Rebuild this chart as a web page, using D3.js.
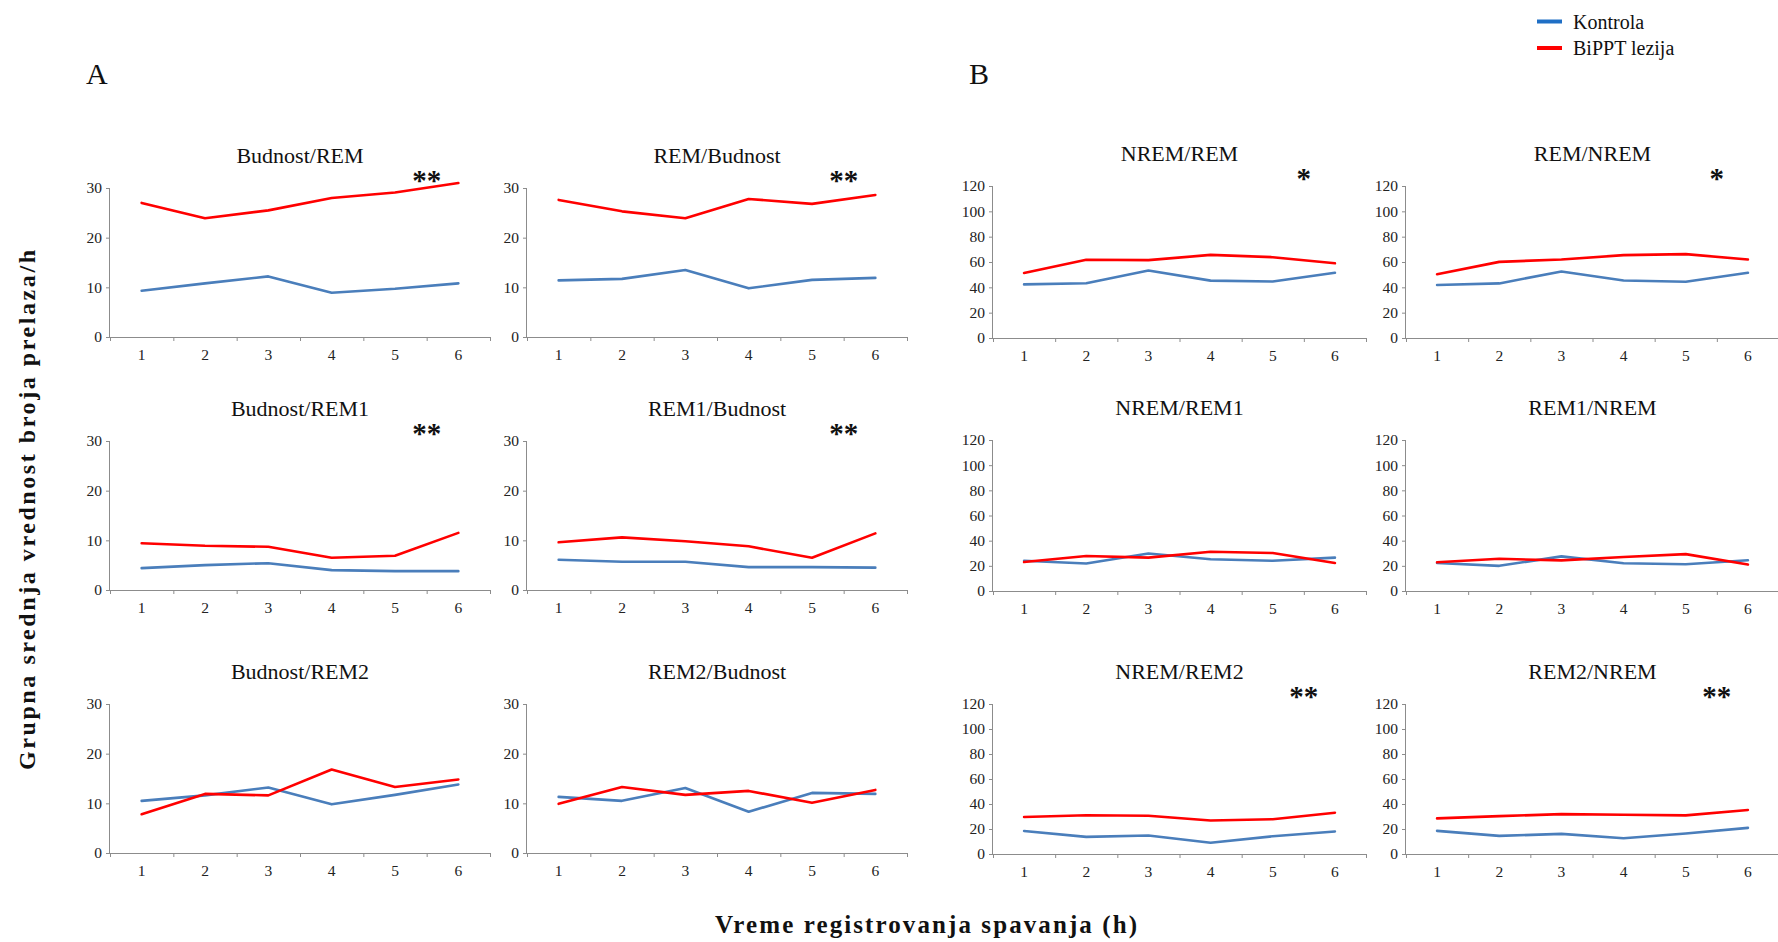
<!DOCTYPE html>
<html>
<head>
<meta charset="utf-8">
<script src="https://cdn.jsdelivr.net/npm/d3@7"></script>
<style>
  html, body { margin: 0; padding: 0; background: #ffffff; }
  svg { display: block; font-family: "Liberation Serif", "Times New Roman", serif; }
</style>
</head>
<body>
<svg id="chart" width="1778" height="942"></svg>
<script>
// ---------- data ----------
const hours = [1, 2, 3, 4, 5, 6];
const seriesNames = ["Kontrola", "BiPPT lezija"];
const yTicksA = [0, 10, 20, 30];
const yTicksB = [0, 20, 40, 60, 80, 100, 120];

const titlesA = ["Budnost/REM", "REM/Budnost", "Budnost/REM1", "REM1/Budnost", "Budnost/REM2", "REM2/Budnost"];
const titlesB = ["NREM/REM", "REM/NREM", "NREM/REM1", "REM1/NREM", "NREM/REM2", "REM2/NREM"];
const starsA = ["**", "**", "**", "**", "", ""];
const starsB = ["*", "*", "", "", "**", "**"];

// Panel A (Budnost <-> REM)
const kontrolaBudnostREM   = [9.3, 10.8, 12.2, 8.9, 9.7, 10.8];
const lezijaBudnostREM     = [27.0, 23.9, 25.5, 28.0, 29.1, 31.0];
const kontrolaREMBudnost   = [11.4, 11.7, 13.5, 9.8, 11.5, 11.9];
const lezijaREMBudnost     = [27.6, 25.3, 23.9, 27.8, 26.8, 28.6];
const kontrolaBudnostREM1  = [4.4, 5.0, 5.4, 4.0, 3.8, 3.8];
const lezijaBudnostREM1    = [9.4, 8.9, 8.7, 6.5, 6.9, 11.5];
const kontrolaREM1Budnost  = [6.1, 5.7, 5.7, 4.6, 4.6, 4.5];
const lezijaREM1Budnost    = [9.6, 10.6, 9.8, 8.8, 6.5, 11.4];
const kontrolaBudnostREM2  = [10.5, 11.6, 13.2, 9.8, 11.7, 13.8];
const lezijaBudnostREM2    = [7.8, 11.9, 11.6, 16.8, 13.3, 14.8];
const kontrolaREM2Budnost  = [11.3, 10.5, 13.1, 8.3, 12.1, 11.9];
const lezijaREM2Budnost    = [9.9, 13.3, 11.7, 12.5, 10.1, 12.7];

// Panel B (NREM <-> REM)
const kontrolaNREMREM  = [42.3, 43.2, 53.3, 45.3, 44.6, 51.5];
const lezijaNREMREM    = [51.3, 61.8, 61.5, 65.6, 63.8, 59.0];
const kontrolaREMNREM  = [41.8, 43.1, 52.5, 45.4, 44.4, 51.5];
const lezijaREMNREM    = [50.4, 60.1, 62.0, 65.4, 66.2, 62.0];
const kontrolaNREMREM1 = [24.0, 21.8, 29.8, 25.2, 24.0, 26.5];
const lezijaNREMREM1   = [23.0, 27.8, 26.5, 31.2, 30.2, 22.3];
const kontrolaREM1NREM = [22.3, 20.0, 27.5, 22.0, 21.3, 24.4];
const lezijaREM1NREM   = [22.8, 25.6, 24.3, 27.0, 29.3, 21.0];
const kontrolaNREMREM2 = [18.4, 13.7, 14.8, 9.0, 14.2, 18.0];
const lezijaNREMREM2   = [29.6, 31.0, 30.6, 26.8, 27.8, 33.0];
const kontrolaREM2NREM = [18.5, 14.5, 16.1, 12.6, 16.4, 20.9];
const lezijaREM2NREM   = [28.5, 30.3, 31.9, 31.4, 30.9, 35.2];

const seriesA = [
  [kontrolaBudnostREM, lezijaBudnostREM], [kontrolaREMBudnost, lezijaREMBudnost],
  [kontrolaBudnostREM1, lezijaBudnostREM1], [kontrolaREM1Budnost, lezijaREM1Budnost],
  [kontrolaBudnostREM2, lezijaBudnostREM2], [kontrolaREM2Budnost, lezijaREM2Budnost]
];
const seriesB = [
  [kontrolaNREMREM, lezijaNREMREM], [kontrolaREMNREM, lezijaREMNREM],
  [kontrolaNREMREM1, lezijaNREMREM1], [kontrolaREM1NREM, lezijaREM1NREM],
  [kontrolaNREMREM2, lezijaNREMREM2], [kontrolaREM2NREM, lezijaREM2NREM]
];

// ---------- layout ----------
const lineColors = ["#4a7ebb", "#ff0000"];
const legendColors = ["#1f6fc5", "#ff0000"];
const axisColor = "#8c8c8c";

const layoutA = { cols: [[110, 490], [527, 907]], rows: [[188, 337], [441, 590], [704, 853]], max: 30, ticks: yTicksA };
const layoutB = { cols: [[993, 1366], [1406, 1779]], rows: [[186, 338], [440, 591], [704, 854]], max: 120, ticks: yTicksB };

const svg = d3.select("#chart");

function drawPanel(L, idx, title, stars, data) {
  const col = idx % 2, row = Math.floor(idx / 2);
  const [x0, x1] = L.cols[col];
  const [top, bottom] = L.rows[row];
  const g = svg.append("g");

  const x = d3.scaleBand().domain(hours).range([x0, x1]);
  const xb = d3.scaleLinear().domain([0, hours.length]).range([x0, x1]);
  const y = d3.scaleLinear().domain([0, L.max]).range([bottom, top]);

  // y axis
  const ya = g.append("g").attr("transform", `translate(${x0},0)`)
    .call(d3.axisLeft(y).tickValues(L.ticks).tickSize(4).tickPadding(4).tickFormat(d3.format("d")));
  ya.select(".domain").attr("stroke", axisColor).attr("d", `M-0.5,${top}V${bottom}`);
  ya.selectAll(".tick line").attr("stroke", axisColor);
  ya.selectAll(".tick text").attr("font-family", "Liberation Serif").attr("font-size", 15.5).attr("fill", "#222");

  // x axis: boundary ticks
  const xa = g.append("g").attr("transform", `translate(0,${bottom})`)
    .call(d3.axisBottom(xb).tickValues(d3.range(0, hours.length + 1)).tickSize(4).tickFormat(""));
  xa.select(".domain").attr("stroke", axisColor).attr("d", `M${x0},0.5H${x1}`);
  xa.selectAll(".tick line").attr("stroke", axisColor);

  // x labels at band centres
  const xl = g.append("g").attr("transform", `translate(0,${bottom})`)
    .call(d3.axisBottom(x).tickSize(0).tickPadding(12));
  xl.select(".domain").remove();
  xl.selectAll(".tick text").attr("font-family", "Liberation Serif").attr("font-size", 15.5).attr("fill", "#222");

  // lines
  const line = d3.line().x((d, i) => x(hours[i]) + x.bandwidth() / 2).y(d => y(d));
  data.forEach((s, si) => {
    g.append("path").datum(s).attr("d", line)
      .attr("fill", "none").attr("stroke", lineColors[si]).attr("stroke-width", 2.6)
      .attr("stroke-linejoin", "round").attr("stroke-linecap", "round");
  });

  // title
  g.append("text").attr("x", (x0 + x1) / 2).attr("y", top - 25)
    .attr("text-anchor", "middle").attr("font-size", 22).attr("fill", "#111").text(title);

  // significance stars
  if (stars) {
    g.append("text").attr("x", xb(5)).attr("y", top + 2)
      .attr("text-anchor", "middle").attr("font-size", 29).attr("font-weight", "bold")
      .attr("fill", "#111").text(stars);
  }
}

titlesA.forEach((t, i) => drawPanel(layoutA, i, t, starsA[i], seriesA[i]));
titlesB.forEach((t, i) => drawPanel(layoutB, i, t, starsB[i], seriesB[i]));

// section letters
svg.append("text").attr("x", 86).attr("y", 84).attr("font-size", 30).attr("fill", "#111").text("A");
svg.append("text").attr("x", 969).attr("y", 84).attr("font-size", 30).attr("fill", "#111").text("B");

// legend
const legend = svg.append("g");
seriesNames.forEach((n, i) => {
  const ly = 21.5 + i * 26.5;
  legend.append("line").attr("x1", 1537).attr("x2", 1562).attr("y1", ly).attr("y2", ly)
    .attr("stroke", legendColors[i]).attr("stroke-width", 4);
  legend.append("text").attr("x", 1573).attr("y", ly + 7).attr("font-size", 20).attr("fill", "#111").text(n);
});

// axis titles
svg.append("text")
  .attr("transform", "translate(35,510) rotate(-90)")
  .attr("text-anchor", "middle").attr("font-size", 24).attr("font-weight", "bold").attr("fill", "#111")
  .attr("textLength", 520).attr("lengthAdjust", "spacing")
  .text("Grupna srednja vrednost broja prelaza/h");

svg.append("text")
  .attr("x", 926).attr("y", 933)
  .attr("text-anchor", "middle").attr("font-size", 25).attr("font-weight", "bold").attr("fill", "#111")
  .attr("textLength", 422).attr("lengthAdjust", "spacing")
  .text("Vreme registrovanja spavanja (h)");
</script>
</body>
</html>
